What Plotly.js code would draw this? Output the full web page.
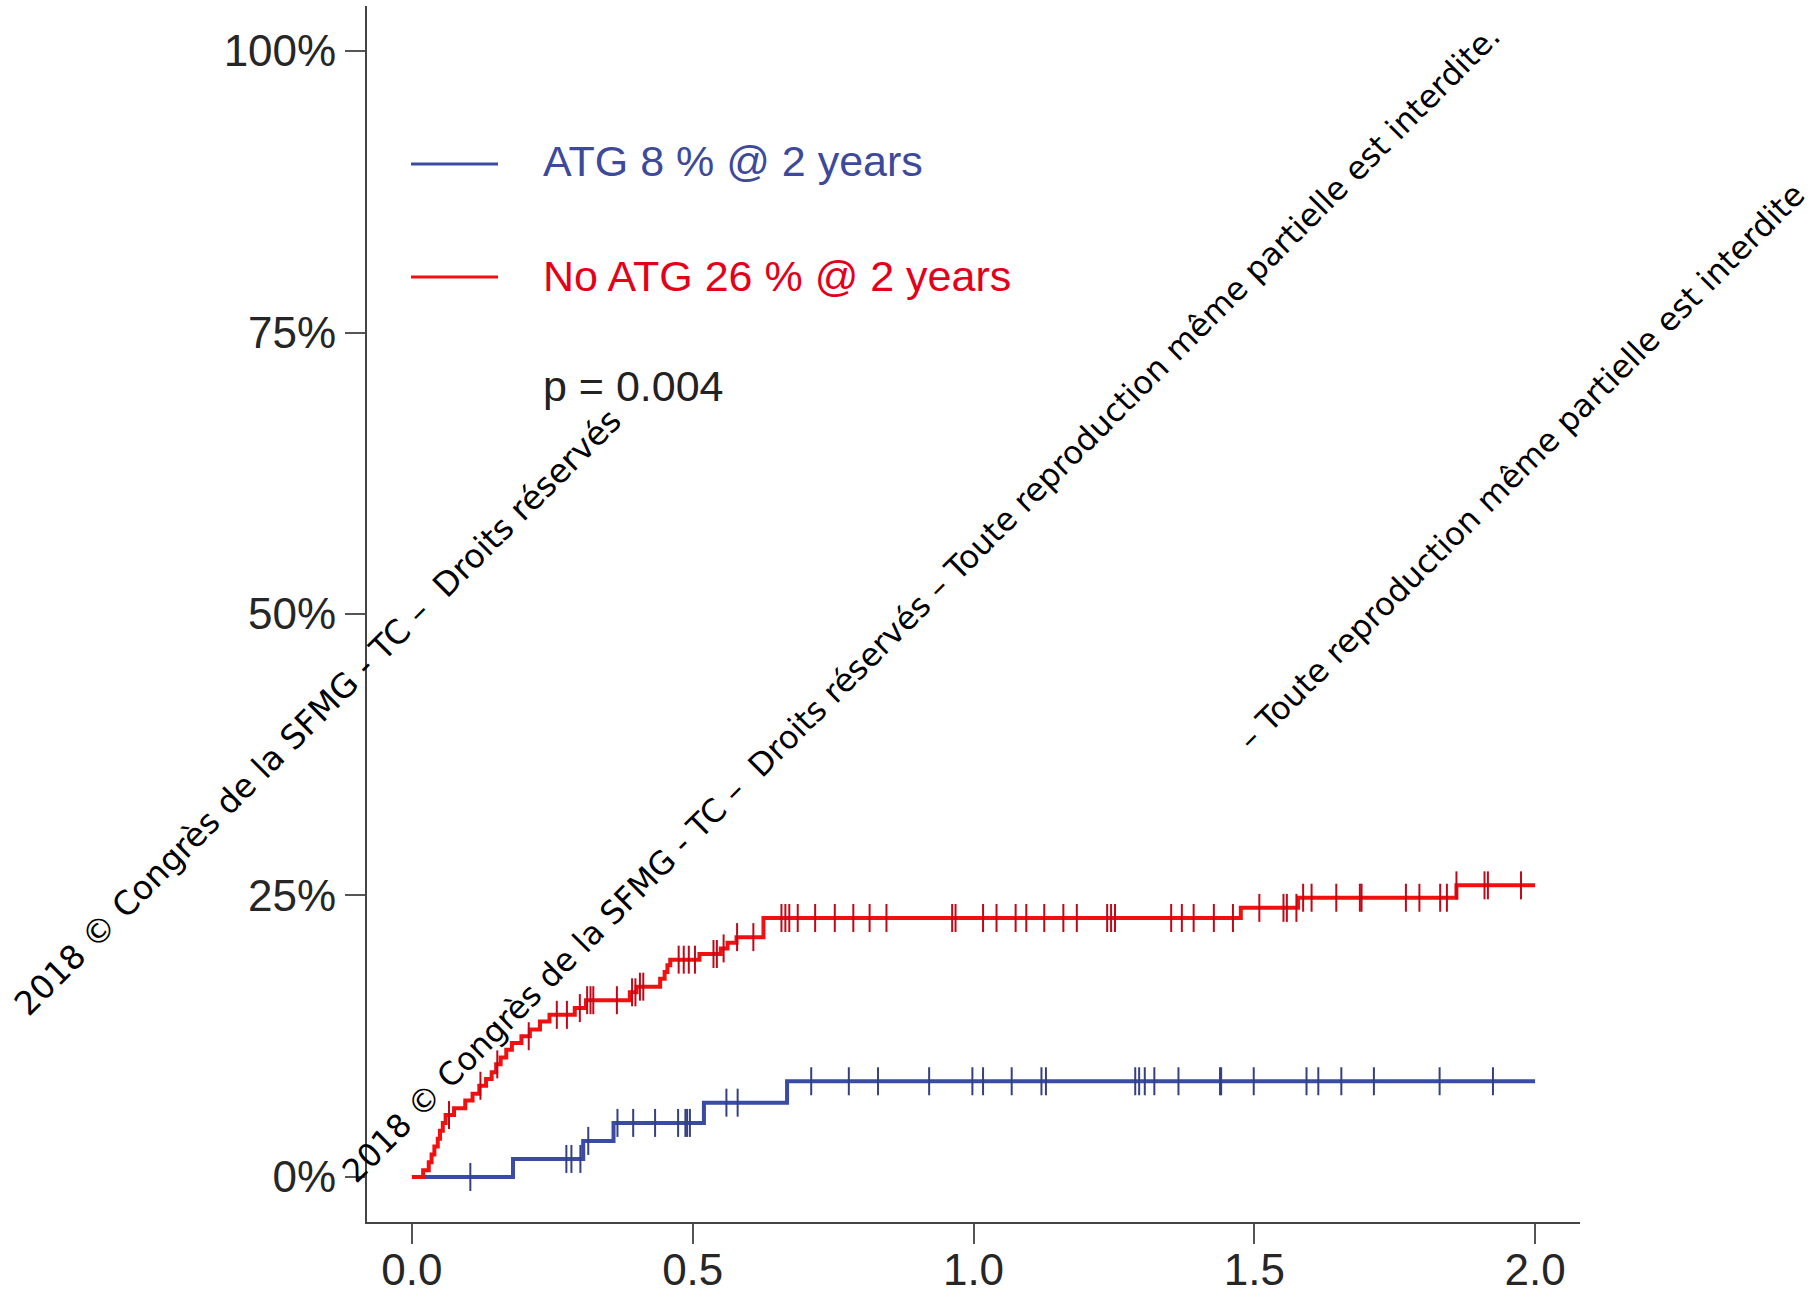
<!DOCTYPE html>
<html>
<head>
<meta charset="utf-8">
<script src="https://cdn.plot.ly/plotly-3.0.1.min.js"></script>
<style>html,body{margin:0;padding:0;background:#fff;}#chart{width:1816px;height:1294px;}</style>
</head>
<body>
<div id="chart"></div>
<script>
// ---- Data (years, cumulative incidence in %) ----
const blueName = "ATG 8 % @ 2 years";
const redName = "No ATG 26 % @ 2 years";
const pText = "p = 0.004";

const blueTimes  = [0, 0.180, 0.305, 0.359, 0.520, 0.668, 2.0];
const blueValues = [0, 1.6,   3.2,   4.8,   6.6,   8.5,   8.5];
const blueCensor = [0.104, 0.275, 0.284, 0.300, 0.314, 0.366, 0.394, 0.433, 0.474, 0.487, 0.490, 0.495,
  0.560, 0.580, 0.711, 0.778, 0.830, 0.921, 0.998, 1.017, 1.068, 1.121, 1.129, 1.288, 1.295, 1.305,
  1.322, 1.365, 1.439, 1.441, 1.499, 1.593, 1.614, 1.655, 1.713, 1.830, 1.925];

const redTimes  = [0, 0.020, 0.030, 0.035, 0.040, 0.046, 0.050, 0.055, 0.060, 0.075, 0.095, 0.108, 0.120,
  0.132, 0.142, 0.150, 0.158, 0.168, 0.178, 0.195, 0.210, 0.228, 0.245, 0.290, 0.310, 0.388, 0.400,
  0.442, 0.450, 0.455, 0.460, 0.512, 0.550, 0.562, 0.578, 0.626, 1.476, 1.578, 1.860, 2.0];
const redValues = [0, 0.6, 1.3, 2.0, 2.7, 3.4, 4.1, 4.8, 5.5, 6.1, 6.8, 7.4, 8.1,
  8.7, 9.3, 10.0, 10.6, 11.3, 11.9, 12.5, 13.1, 13.8, 14.4, 15.0, 15.7, 16.4, 16.9,
  17.6, 18.2, 18.8, 19.3, 19.8, 20.3, 20.8, 21.3, 23.0, 23.9, 24.8, 25.9, 25.9];
const redCensor = [0.066, 0.122, 0.152, 0.208, 0.258, 0.276, 0.299, 0.312, 0.318, 0.323, 0.365, 0.392,
  0.398, 0.406, 0.412, 0.475, 0.484, 0.493, 0.504, 0.537, 0.543, 0.555, 0.579, 0.608,
  0.658, 0.665, 0.672, 0.687, 0.718, 0.753, 0.786, 0.815, 0.845, 0.962, 0.968, 1.017, 1.041,
  1.075, 1.094, 1.126, 1.160, 1.184, 1.238, 1.245, 1.252, 1.352, 1.371, 1.392, 1.428, 1.462,
  1.509, 1.552, 1.558, 1.575, 1.587, 1.602, 1.646, 1.688, 1.691, 1.770, 1.794, 1.831, 1.843,
  1.860, 1.910, 1.916, 1.975];

const xTickVals = [0, 0.5, 1.0, 1.5, 2.0];
const xTickText = ["0.0", "0.5", "1.0", "1.5", "2.0"];
const yTickVals = [0, 25, 50, 75, 100];
const yTickText = ["0%", "25%", "50%", "75%", "100%"];

const watermark1 = "2018 \u00A9 Congr\u00E8s de la SFMG - TC \u2013 \u00A0Droits r\u00E9serv\u00E9s";
const watermark2 = "2018 \u00A9 Congr\u00E8s de la SFMG - TC \u2013 \u00A0Droits r\u00E9serv\u00E9s \u2013 Toute reproduction m\u00EAme partielle est interdite.";
const watermark3 = "\u2013 Toute reproduction m\u00EAme partielle est interdite";

// ---- helpers ----
function stepAt(times, values, t) {
  let v = values[0];
  for (let i = 0; i < times.length; i++) { if (times[i] <= t) v = values[i]; }
  return v;
}

const BLUE = "#3A4BA6", RED = "#F01010";
const W = 1816, H = 1294;
const M = {l: 367, r: 236, t: 6, b: 72};
const PW = W - M.l - M.r, PH = H - M.t - M.b;
const px = x => (x - M.l) / PW;
const py = y => 1 - (y - M.t) / PH;

const traces = [
  {x: blueTimes, y: blueValues, type: "scatter", mode: "lines", line: {color: BLUE, width: 4, shape: "hv"}, name: blueName, showlegend: false},
  {x: redTimes, y: redValues, type: "scatter", mode: "lines", line: {color: RED, width: 4, shape: "hv"}, name: redName, showlegend: false},
  {x: blueCensor, y: blueCensor.map(t => stepAt(blueTimes, blueValues, t)), type: "scatter", mode: "markers",
   marker: {symbol: "line-ns", size: 20, line: {color: "#34407F", width: 2}}, showlegend: false, hoverinfo: "skip"},
  {x: redCensor, y: redCensor.map(t => stepAt(redTimes, redValues, t)), type: "scatter", mode: "markers",
   marker: {symbol: "line-ns", size: 20, line: {color: "#C00818", width: 2}}, showlegend: false, hoverinfo: "skip"}
];

const tickFont = {family: "Liberation Sans, Arial, sans-serif", size: 44, color: "#262626"};
const legFont = "Liberation Sans, Arial, sans-serif";
const wmFont = {family: "DejaVu Sans, sans-serif", size: 33, color: "#000"};
const wmFontSmall = {family: "DejaVu Sans, sans-serif", size: 32, color: "#000"};

const layout = {
  width: W, height: H,
  margin: M,
  paper_bgcolor: "#fff", plot_bgcolor: "#fff",
  showlegend: false,
  xaxis: {range: [-0.08, 2.08], tickvals: xTickVals, ticktext: xTickText, showgrid: false, zeroline: false,
          showline: true, linecolor: "#444", linewidth: 2, ticks: "outside", ticklen: 20, tickwidth: 2, tickcolor: "#555",
          tickfont: tickFont, ticklabelstandoff: -12},
  yaxis: {range: [-4, 104], tickvals: yTickVals, ticktext: yTickText, showgrid: false, zeroline: false,
          showline: true, linecolor: "#444", linewidth: 2, ticks: "outside", ticklen: 20, tickwidth: 2, tickcolor: "#555",
          tickfont: tickFont},
  shapes: [
    {type: "line", xref: "paper", yref: "paper", x0: px(411), x1: px(498), y0: py(164), y1: py(164), line: {color: BLUE, width: 3}},
    {type: "line", xref: "paper", yref: "paper", x0: px(411), x1: px(498), y0: py(277), y1: py(277), line: {color: RED, width: 3}}
  ],
  annotations: [
    {xref: "paper", yref: "paper", x: px(541), y: py(161), xanchor: "left", yanchor: "middle", showarrow: false,
     text: blueName, font: {family: legFont, size: 43, color: "#3D4A9C"}},
    {xref: "paper", yref: "paper", x: px(541), y: py(276), xanchor: "left", yanchor: "middle", showarrow: false,
     text: redName, font: {family: legFont, size: 43, color: "#E5001A"}},
    {xref: "paper", yref: "paper", x: px(541), y: py(386), xanchor: "left", yanchor: "middle", showarrow: false,
     text: pText, font: {family: legFont, size: 43, color: "#222"}},
    {xref: "paper", yref: "paper", x: px(317), y: py(712), xanchor: "center", yanchor: "middle", showarrow: false,
     textangle: -45, text: watermark1, font: wmFont},
    {xref: "paper", yref: "paper", x: px(921), y: py(604), xanchor: "center", yanchor: "middle", showarrow: false,
     textangle: -45, text: watermark2, font: wmFontSmall},
    {xref: "paper", yref: "paper", x: px(1521), y: py(467), xanchor: "center", yanchor: "middle", showarrow: false,
     textangle: -45, text: watermark3, font: wmFontSmall}
  ]
};

Plotly.newPlot("chart", traces, layout, {staticPlot: true, displayModeBar: false});
</script>
</body>
</html>
